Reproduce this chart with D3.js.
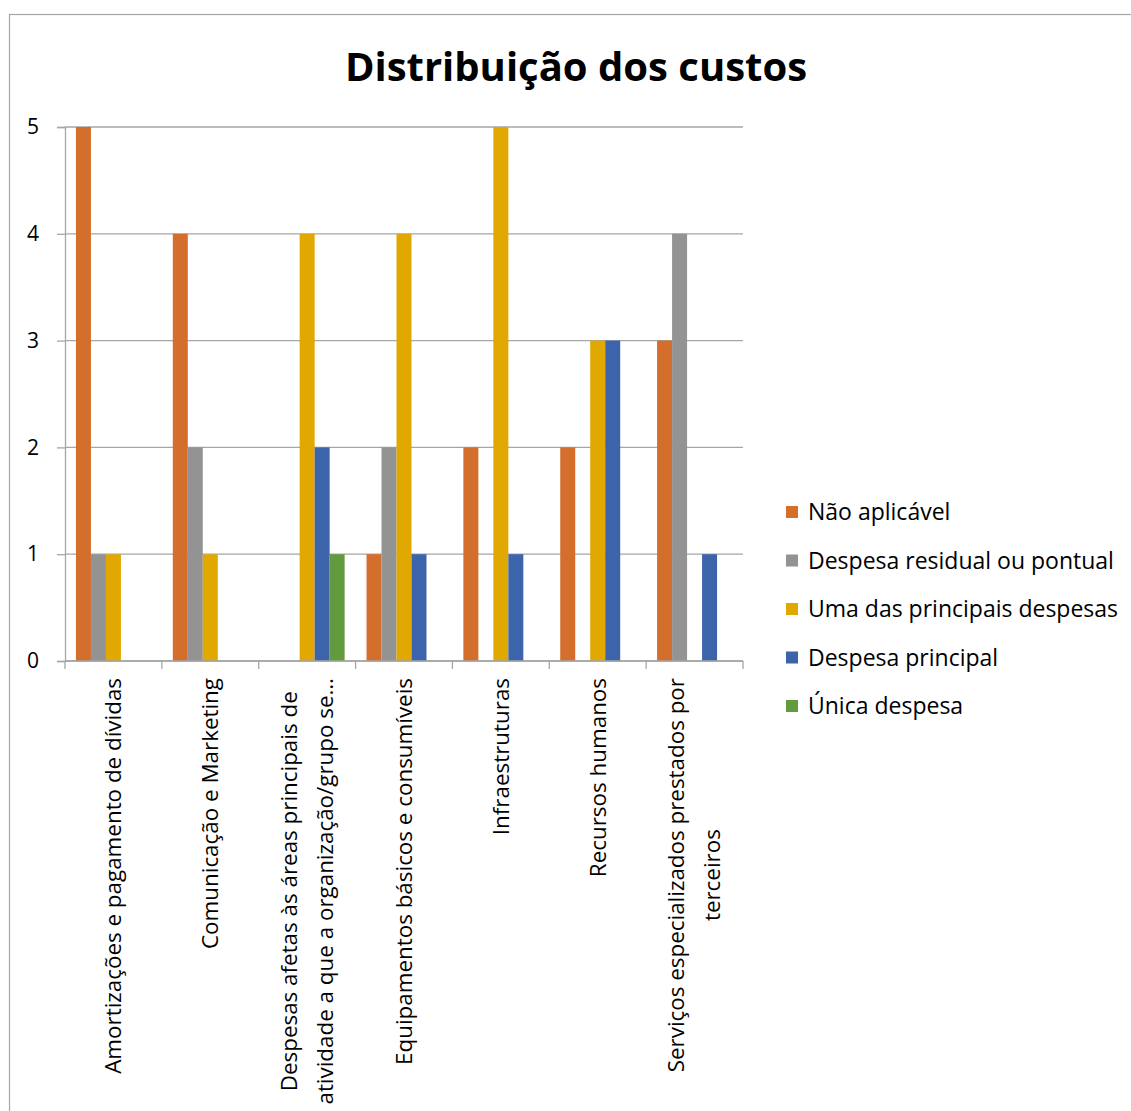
<!DOCTYPE html>
<html lang="pt">
<head>
<meta charset="utf-8">
<script src="https://cdn.jsdelivr.net/npm/d3@7"></script>
<style>
  html, body { margin: 0; padding: 0; background: #fff; }
  svg { display: block; }
  text { font-family: "Open Sans", "Lato", sans-serif; fill: #000; }
</style>
</head>
<body>
<svg id="chart" width="1131" height="1111"></svg>
<script>
// Cost categories (x axis); "\n" marks a wrapped line
const categories = [
  "Amortizações e pagamento de dívidas",
  "Comunicação e Marketing",
  "Despesas afetas às áreas principais de\natividade a que a organização/grupo se…",
  "Equipamentos básicos e consumíveis",
  "Infraestruturas",
  "Recursos humanos",
  "Serviços especializados prestados por\nterceiros"
];

// One array per answer option, in category order
const seriesNames = [
  "Não aplicável",
  "Despesa residual ou pontual",
  "Uma das principais despesas",
  "Despesa principal",
  "Única despesa"
];
const naoAplicavel      = [5, 4, 0, 1, 2, 2, 3];
const despesaResidual   = [1, 2, 0, 2, 0, 0, 4];
const umaDasPrincipais  = [1, 1, 4, 4, 5, 3, 0];
const despesaPrincipal  = [0, 0, 2, 1, 1, 3, 1];
const unicaDespesa      = [0, 0, 1, 0, 0, 0, 0];
const seriesValues = [naoAplicavel, despesaResidual, umaDasPrincipais, despesaPrincipal, unicaDespesa];

const seriesColors = ["#D46E2C", "#939393", "#E0A800", "#3C64AA", "#629A3E"];
const yTicks = [0, 1, 2, 3, 4, 5];

const svg = d3.select("#chart");

// chart frame
svg.append("rect")
  .attr("x", 9.5).attr("y", 14.5)
  .attr("width", 1200).attr("height", 1200)
  .attr("fill", "none").attr("stroke", "#a6a6a6").attr("stroke-width", 1.2);

// title
svg.append("text")
  .attr("x", 576).attr("y", 81)
  .attr("text-anchor", "middle")
  .style("font-size", "40px").style("font-weight", "bold")
  .text("Distribuição dos custos");

const plot = { left: 65, right: 743, top: 127, bottom: 661 };

const x0 = d3.scaleBand().domain(categories).range([plot.left, plot.right]).padding(0);
const x1 = d3.scaleBand().domain(seriesNames).range([0, x0.bandwidth()])
  .paddingInner(0).paddingOuter(0.73);
const y = d3.scaleLinear().domain([0, 5]).range([plot.bottom, plot.top]);

const gridColor = "#a6a6a6";

// horizontal gridlines
svg.append("g")
  .selectAll("line")
  .data(yTicks)
  .join("line")
  .attr("x1", plot.left).attr("x2", plot.right)
  .attr("y1", d => y(d)).attr("y2", d => y(d))
  .attr("stroke", gridColor).attr("stroke-width", 1.3);

// bars (zero values are not drawn)
const rows = categories.map((c, i) => ({
  cat: c,
  vals: seriesNames.map((s, j) => ({ s, j, v: seriesValues[j][i] }))
}));

svg.append("g")
  .selectAll("g")
  .data(rows)
  .join("g")
  .attr("transform", d => `translate(${x0(d.cat)},0)`)
  .selectAll("rect")
  .data(d => d.vals.filter(e => e.v > 0))
  .join("rect")
  .attr("x", d => x1(d.s))
  .attr("width", x1.bandwidth())
  .attr("y", d => y(d.v))
  .attr("height", d => y(0) - y(d.v))
  .attr("fill", d => seriesColors[d.j]);

// y axis
const yAxis = svg.append("g")
  .attr("transform", `translate(${plot.left},0)`)
  .call(d3.axisLeft(y).tickValues(yTicks).tickFormat(d3.format("d")).tickSize(8).tickPadding(18));
yAxis.select(".domain").attr("stroke", gridColor).attr("stroke-width", 1.3);
yAxis.selectAll(".tick line").attr("stroke", gridColor).attr("stroke-width", 1.3);
yAxis.selectAll(".tick text").style("font-size", "21px").attr("fill", "#000");

// x axis: line with ticks between categories
const xAxisG = svg.append("g").attr("transform", `translate(0,${plot.bottom})`);
xAxisG.append("line")
  .attr("x1", plot.left).attr("x2", plot.right)
  .attr("stroke", gridColor).attr("stroke-width", 1.3);
const boundaries = categories.map(c => x0(c)).concat([x0.range()[1]]);
xAxisG.selectAll("line.tk")
  .data(boundaries)
  .join("line")
  .attr("class", "tk")
  .attr("x1", d => d).attr("x2", d => d)
  .attr("y1", 0).attr("y2", 8)
  .attr("stroke", gridColor).attr("stroke-width", 1.3);

// rotated category labels, lines centred within a top-aligned block
const labelTop = 678;
const lineGap = 36;
const labelSize = 22.4;
categories.forEach(c => {
  const lines = c.split("\n");
  const g = svg.append("g");
  const texts = lines.map(l => g.append("text")
    .style("font-size", labelSize + "px")
    .attr("text-anchor", "middle")
    .text(l));
  const maxLen = d3.max(texts, t => t.node().getComputedTextLength());
  const cx = x0(c) + x0.bandwidth() / 2;
  const cy = labelTop + maxLen / 2;
  texts.forEach((t, k) => {
    const off = (k - (lines.length - 1) / 2) * lineGap;
    const bx = cx + off + labelSize * 0.35;
    t.attr("transform", `translate(${bx},${cy}) rotate(-90)`);
  });
});

// legend
const legend = svg.append("g")
  .selectAll("g")
  .data(seriesNames)
  .join("g")
  .attr("transform", (d, i) => `translate(786,${512 + i * 48.5})`);
legend.append("rect")
  .attr("x", 0).attr("y", -6).attr("width", 12).attr("height", 12)
  .attr("fill", (d, i) => seriesColors[i]);
legend.append("text")
  .attr("x", 22).attr("y", 8)
  .style("font-size", "23px")
  .text(d => d);
</script>
</body>
</html>
